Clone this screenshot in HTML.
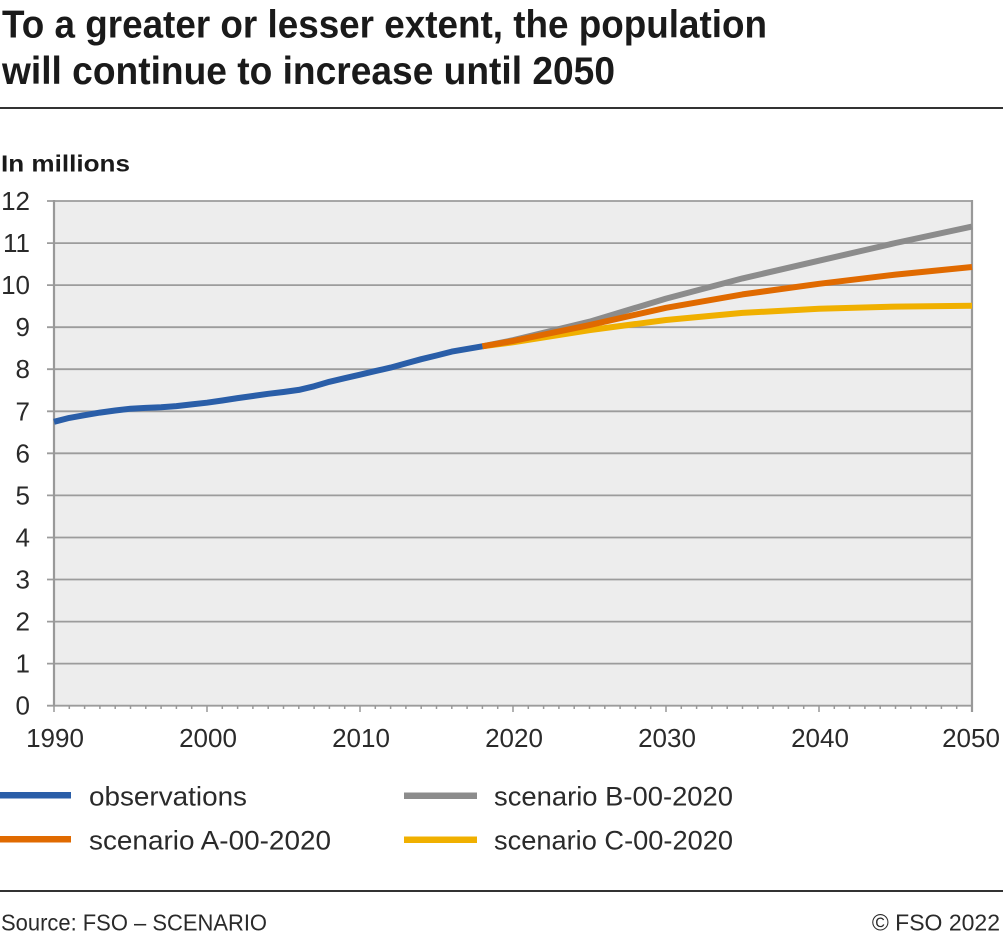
<!DOCTYPE html>
<html>
<head>
<meta charset="utf-8">
<style>
html,body{margin:0;padding:0;background:#fff;}
svg{display:block;}
text{font-family:"Liberation Sans",sans-serif;}
</style>
</head>
<body>
<svg width="1003" height="938" viewBox="0 0 1003 938" xmlns="http://www.w3.org/2000/svg">
<text x="2" y="37.5" font-size="39" font-weight="bold" fill="#1a1a1a" textLength="765" lengthAdjust="spacingAndGlyphs">To a greater or lesser extent, the population</text>
<text x="2" y="84" font-size="39" font-weight="bold" fill="#1a1a1a" textLength="613" lengthAdjust="spacingAndGlyphs">will continue to increase until 2050</text>
<rect x="0" y="107" width="1003" height="2" fill="#333"/>
<text x="1" y="171.5" font-size="23.5" font-weight="bold" fill="#1a1a1a" textLength="129" lengthAdjust="spacingAndGlyphs">In millions</text>
<rect x="54" y="201" width="918" height="504.7" fill="#ededed"/>
<path stroke="#9c9c9c" stroke-width="1.8" fill="none" d="M47 201H972M47 243.1H972M47 285.1H972M47 327.2H972M47 369.2H972M47 411.3H972M47 453.3H972M47 495.4H972M47 537.5H972M47 579.5H972M47 621.6H972M47 663.6H972M47 705.7H972"/>
<path stroke="#999" stroke-width="2.2" fill="none" d="M54 200V706.5M972 200V712"/>
<path stroke="#999" stroke-width="1.5" fill="none" d="M54 705.7v6.3M207 705.7v6.3M360 705.7v6.3M513 705.7v6.3M666 705.7v6.3M819 705.7v6.3M69.3 705.7v3.3M84.6 705.7v3.3M99.9 705.7v3.3M115.2 705.7v3.3M130.5 705.7v3.3M145.8 705.7v3.3M161.1 705.7v3.3M176.4 705.7v3.3M191.7 705.7v3.3M222.3 705.7v3.3M237.6 705.7v3.3M252.9 705.7v3.3M268.2 705.7v3.3M283.5 705.7v3.3M298.8 705.7v3.3M314.1 705.7v3.3M329.4 705.7v3.3M344.7 705.7v3.3M375.3 705.7v3.3M390.6 705.7v3.3M405.9 705.7v3.3M421.2 705.7v3.3M436.5 705.7v3.3M451.8 705.7v3.3M467.1 705.7v3.3M482.4 705.7v3.3M497.7 705.7v3.3M528.3 705.7v3.3M543.6 705.7v3.3M558.9 705.7v3.3M574.2 705.7v3.3M589.5 705.7v3.3M604.8 705.7v3.3M620.1 705.7v3.3M635.4 705.7v3.3M650.7 705.7v3.3M681.3 705.7v3.3M696.6 705.7v3.3M711.9 705.7v3.3M727.2 705.7v3.3M742.5 705.7v3.3M757.8 705.7v3.3M773.1 705.7v3.3M788.4 705.7v3.3M803.7 705.7v3.3M834.3 705.7v3.3M849.6 705.7v3.3M864.9 705.7v3.3M880.2 705.7v3.3M895.5 705.7v3.3M910.8 705.7v3.3M926.1 705.7v3.3M941.4 705.7v3.3M956.7 705.7v3.3"/>
<g font-size="26" fill="#2a2a2a" text-anchor="end">
<text x="30" y="210">12</text>
<text x="30" y="252.1">11</text>
<text x="30" y="294.1">10</text>
<text x="30" y="336.2">9</text>
<text x="30" y="378.2">8</text>
<text x="30" y="420.3">7</text>
<text x="30" y="462.3">6</text>
<text x="30" y="504.4">5</text>
<text x="30" y="546.5">4</text>
<text x="30" y="588.5">3</text>
<text x="30" y="630.6">2</text>
<text x="30" y="672.6">1</text>
<text x="30" y="714.7">0</text>
</g>
<g font-size="26" fill="#2a2a2a" text-anchor="middle">
<text x="55" y="747">1990</text>
<text x="208" y="747">2000</text>
<text x="361" y="747">2010</text>
<text x="514" y="747">2020</text>
<text x="667" y="747">2030</text>
<text x="820" y="747">2040</text>
<text x="971" y="747">2050</text>
</g>
<g fill="none" stroke-width="6" stroke-linejoin="round">
<polyline stroke="#8c8c8c" points="482.4,346.3 513,340.2 589.5,321.7 666,298.6 742.5,278.4 819,260.7 895.5,243 972,226.6"/>
<polyline stroke="#f0b000" points="482.4,346.3 513,342.3 589.5,330.1 666,320 742.5,312.9 819,308.7 895.5,306.6 972,305.7"/>
<polyline stroke="#e06a00" points="482.4,346.3 513,341 589.5,325.1 666,307.8 742.5,294.4 819,283.8 895.5,274.6 972,267"/>
<polyline stroke="#2a5ea8" points="54,421.8 69.3,417.9 84.6,415.2 99.9,412.6 115.2,410.5 130.5,408.7 145.8,407.9 161.1,407.2 176.4,406.1 191.7,404.4 207,402.7 222.3,400.5 237.6,398.1 252.9,396 268.2,393.8 283.5,392 298.8,389.9 314.1,386.3 329.4,381.8 344.7,378.2 360,374.7 375.3,371.1 390.6,367.6 405.9,363.4 421.2,359.2 436.5,355.5 451.8,351.6 467.1,348.9 482.4,346.3"/>
</g>
<rect x="0" y="792" width="71" height="6.5" fill="#2a5ea8"/>
<rect x="0" y="836" width="71" height="6.5" fill="#e06a00"/>
<rect x="404" y="792.5" width="73" height="6.5" fill="#8c8c8c"/>
<rect x="404" y="836.5" width="73" height="6.5" fill="#f0b000"/>
<g font-size="27" fill="#2a2a2a">
<text x="89" y="805.5" textLength="158" lengthAdjust="spacingAndGlyphs">observations</text>
<text x="89" y="849.5" textLength="242" lengthAdjust="spacingAndGlyphs">scenario A-00-2020</text>
<text x="494" y="805.5" textLength="239" lengthAdjust="spacingAndGlyphs">scenario B-00-2020</text>
<text x="494" y="849.5" textLength="239" lengthAdjust="spacingAndGlyphs">scenario C-00-2020</text>
</g>
<rect x="0" y="890" width="1003" height="2" fill="#333"/>
<text x="1" y="930.5" font-size="23" fill="#2a2a2a" textLength="266" lengthAdjust="spacingAndGlyphs">Source: FSO – SCENARIO</text>
<text x="1000" y="930.5" font-size="23" fill="#2a2a2a" text-anchor="end">© FSO 2022</text>
</svg>
</body>
</html>
